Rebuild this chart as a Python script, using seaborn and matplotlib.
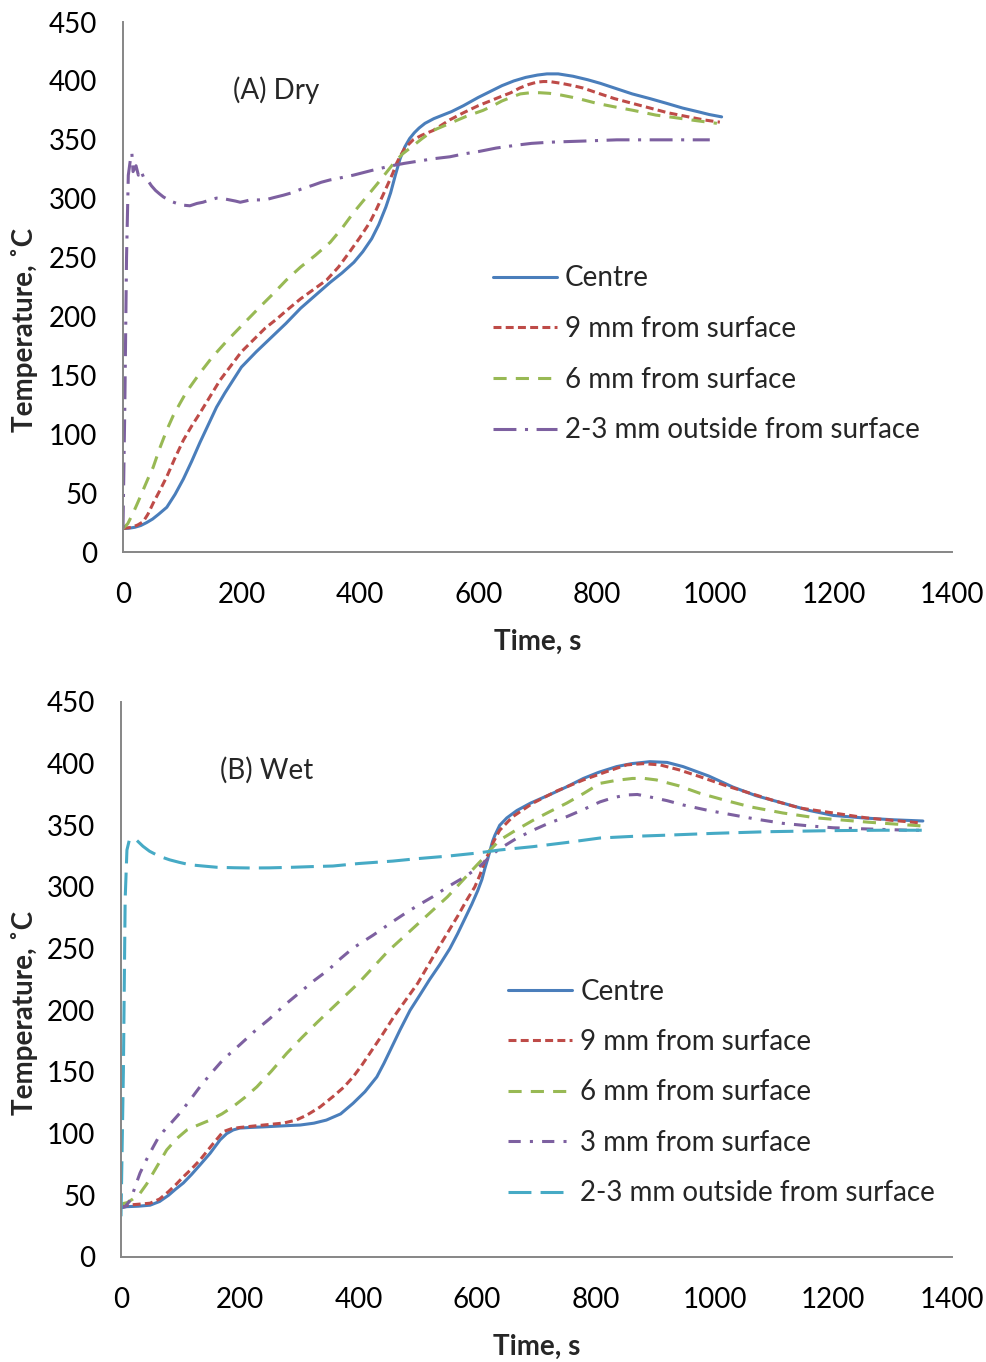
import matplotlib
matplotlib.use("Agg")
import matplotlib.pyplot as plt
import seaborn as sns

# ---------------- data ----------------
# (A) Dry: time (s) and temperature (deg C) per measuring position
dry_centre_t = [0, 10, 20, 30, 40, 50, 60, 74, 88, 102, 116, 130, 144, 158, 172, 186, 200,
                225, 250, 275, 300, 325, 350, 370, 390, 405, 420, 432, 444, 452, 460, 468,
                476, 484, 492, 500, 510, 525, 540, 555, 575, 600, 620, 640, 660, 680, 700,
                716, 735, 760, 785, 806, 830, 860, 890, 918, 945, 970, 990, 1011]
dry_centre_T = [20, 20.2, 21, 22.5, 25, 28, 32, 38, 49, 62, 77, 93, 108, 123, 135, 146, 157,
                170, 182, 194, 207, 218, 229, 237, 246, 255, 266, 278, 293, 305, 320, 334,
                344, 351, 356, 360, 364, 368, 371, 374, 379, 386, 391, 396, 400, 403, 405,
                406, 406, 404, 401, 398, 394, 389, 385, 381, 377, 374, 371.5, 369.5]

dry_9mm_t = [0, 15, 25, 34, 42, 51, 62, 74, 88, 102, 116, 130, 147, 164, 182, 200, 220, 240,
             260, 276, 300, 322, 344, 364, 383, 400, 417, 428, 439, 448, 456, 462, 468, 476,
             490, 505, 524, 552, 575, 600, 620, 637, 655, 670, 685, 699, 710, 720, 740, 760,
             777, 800, 830, 860, 890, 920, 950, 980, 1008]
dry_9mm_T = [20, 21, 23, 25.7, 32, 41.5, 52, 64, 80, 95, 107, 118, 132, 146, 158, 170, 180,
             190, 198, 205, 215, 223, 231, 242, 255, 267, 280, 291, 303, 313, 322, 330, 336,
             343, 350, 354, 358, 367, 373, 379, 383, 386.5, 390, 394, 397, 399, 399.5, 399.5,
             398, 396, 394, 390, 385, 381, 377, 373, 370, 367, 365]

dry_6mm_t = [0, 8, 17, 25, 34, 42, 51, 62, 74, 85, 96, 105, 113, 130, 150, 175, 200, 231,
             255, 276, 300, 325, 350, 370, 389, 412, 435, 457, 472, 490, 505, 524, 552, 580,
             608, 625, 640, 655, 671, 688, 704, 720, 740, 760, 777, 800, 830, 862, 900, 930,
             965, 1003]
dry_6mm_T = [20, 24, 33, 42, 52.6, 62, 72, 88, 103.6, 116, 126, 134, 140, 152, 165, 179, 192,
             208, 220, 231, 242, 252, 263, 275, 288, 302, 316, 330, 338, 345, 351, 358, 364,
             370, 375, 379, 383, 386, 389, 390, 390, 389.5, 388, 386, 384, 381, 378, 375,
             371, 369, 366.5, 364]

dry_out_t = [0, 3, 6, 9, 13, 15, 17, 22, 26, 30, 35, 40, 48, 55, 62, 68, 80, 91, 102, 113,
             125, 135, 147, 158, 170, 180, 190, 198, 207, 215, 228, 240, 255, 271, 285, 300,
             321, 335, 350, 370, 389, 420, 451, 475, 500, 525, 552, 575, 600, 630, 665, 690,
             721, 750, 780, 834, 900, 950, 991]
dry_out_T = [20, 120, 250, 320, 335, 338.6, 323, 328, 320, 324, 318, 317, 311, 307, 304,
             301.6, 298, 296, 294.5, 294, 296, 297, 299, 300.5, 300, 299, 298, 297, 298, 299,
             299, 299, 301, 303, 305, 308, 311.5, 314, 316, 318, 320, 324, 327.7, 330, 332,
             334, 335.6, 338, 340, 343, 345.5, 347, 348, 348.5, 349, 350, 350, 350, 350]

# (B) Wet
wet_centre_t = [0, 10, 30, 49, 65, 80, 92, 105, 119, 133, 150, 167, 178, 189, 200, 217, 240,
                260, 280, 302, 325, 346, 370, 391, 411, 431, 443, 453, 470, 487, 503, 520,
                537, 554, 567, 580, 591, 601, 608, 613, 618, 622, 626, 630, 638, 650, 667,
                690, 723, 750, 779, 805, 835, 860, 891, 920, 947, 990, 1031, 1070, 1115, 1160,
                1200, 1250, 1300, 1351]
wet_centre_T = [40, 40.8, 41.2, 42, 45, 50, 55, 60, 67, 74.6, 84, 95, 100, 103, 104.5, 105,
                105.5, 106, 106.5, 107, 108.5, 111, 116, 124.6, 134, 146, 157, 167, 184, 200,
                212, 225, 237, 250, 262, 275, 286, 297, 306, 315, 323, 330, 337, 342, 350,
                356, 362, 368, 375, 381, 388, 393, 397.6, 400, 401.6, 401, 397.6, 390, 381,
                374, 368, 362, 358, 356, 354.5, 353.5]

wet_9mm_t = [0, 10, 30, 49, 65, 80, 92, 105, 119, 133, 152, 172, 186, 200, 230, 274, 295, 313,
             335, 357, 375, 391, 405, 419, 440, 460, 480, 500, 517, 534, 551, 568, 582, 596,
             605, 612, 618, 622, 628, 638, 660, 694, 735, 779, 815, 852, 880, 908, 940, 975,
             1020, 1060, 1100, 1144, 1200, 1256, 1300, 1346]
wet_9mm_T = [40, 42, 42.8, 43.6, 47, 53, 58.5, 65, 71.5, 78.6, 90, 101.6, 104, 105, 106.5,
             108.6, 111, 115, 121.5, 130, 137.5, 146, 155, 165, 180, 195, 208.5, 222, 236,
             250, 263.5, 277, 289, 300, 310, 320, 326, 330, 337, 346, 357, 368, 378, 386.8,
             393, 399, 400, 399, 395, 389.5, 382, 376, 370, 364, 360, 356, 354, 352]

wet_6mm_t = [0, 10, 20, 32, 43, 54, 65, 77, 94, 111, 130, 150, 170, 189, 209, 229, 254, 279,
             305, 330, 365, 400, 425, 450, 475, 500, 525, 550, 575, 600, 612, 622, 638, 665,
             694, 722, 751, 780, 807, 835, 862, 882, 902, 940, 975, 1020, 1060, 1115, 1172,
             1260, 1349]
wet_6mm_T = [43, 44, 47, 51.6, 59, 68, 77, 86.8, 96, 103, 107, 111, 116, 122, 129.5, 138,
             151, 165, 178, 190, 206, 222, 235, 248, 259, 270, 281, 292, 305, 318, 324, 330,
             338, 346, 354, 361, 368, 376, 384, 386.5, 388, 388, 386.8, 382, 376, 370, 365,
             360, 356, 352.5, 349.5]

wet_3mm_t = [0, 7, 14, 20, 26, 32, 43, 54, 62, 71, 85, 99, 116, 133, 152, 172, 200, 225, 250,
             275, 300, 325, 350, 370, 391, 425, 458, 480, 500, 525, 550, 575, 600, 612, 622,
             638, 665, 694, 722, 751, 780, 807, 830, 852, 870, 891, 920, 947, 990, 1031, 1070,
             1115, 1160, 1200, 1260, 1329, 1351]
wet_3mm_T = [40, 40.8, 45, 51.6, 60, 68, 79, 89, 96, 101.6, 109, 116.6, 127, 138, 149, 160,
             172, 183, 193, 204, 214, 224, 233, 242, 250.5, 261, 272, 279, 285, 292, 300, 307,
             315, 320, 325, 331, 339, 346, 352, 357, 363, 369, 372.5, 374.6, 375, 373, 370,
             366.5, 362, 358.4, 355, 351.6, 349.5, 348, 347, 346, 346]

wet_out_t = [0, 4, 7, 10, 14, 24, 37, 48, 60, 70, 82, 98, 116, 138, 161, 190, 217, 250, 290,
             320, 357, 400, 458, 500, 550, 600, 638, 694, 750, 807, 860, 919, 1000, 1088,
             1150, 1200, 1280, 1351]
wet_out_T = [33, 150, 290, 330, 338, 339, 333, 329, 326, 324, 322, 320, 318, 317, 316, 315.6,
             315.4, 315.5, 316, 316.5, 317, 319, 321, 323, 325, 327.5, 330, 332.7, 336,
             339.7, 341, 342, 343.5, 344.8, 345.3, 345.7, 346, 346]

label_centre = "Centre"
label_9mm = "9 mm from surface"
label_6mm = "6 mm from surface"
label_3mm = "3 mm from surface"
label_out = "2-3 mm outside from surface"

x_ticks = [0, 200, 400, 600, 800, 1000, 1200, 1400]
y_ticks = [0, 50, 100, 150, 200, 250, 300, 350, 400, 450]

# ---------------- style ----------------
sns.set_theme(style="white")
plt.rcParams["font.family"] = ["Lato", "DejaVu Sans"]

BLUE = "#4A7EBB"
RED = "#BE4B48"
GREEN = "#98B954"
PURPLE = "#7D60A0"
CYAN = "#46AAC5"
AXIS_GREY = "#868686"

LW = 2.2
FS = 20

SOLID = "-"
ROUND_DOT = (0, (2.6, 1.4))
DASH = (0, (4.3, 3.0))
LONG_DASH_DOT = (0, (7.5, 2.8, 1.0, 2.8))
DASH_DOT = (0, (4.0, 3.0, 1.0, 3.0))
LONG_DASH = (0, (7.5, 3.0))


def draw(ax, t, T, color, ls, label):
    sns.lineplot(x=t, y=T, ax=ax, color=color, linestyle=ls, linewidth=LW,
                 label=label, sort=False, estimator=None, errorbar=None)


def style_axes(ax):
    ax.set_xlim(0, 1400)
    ax.set_ylim(0, 450)
    ax.set_xticks(x_ticks)
    ax.set_yticks(y_ticks)
    for side in ("top", "right"):
        ax.spines[side].set_visible(False)
    for side in ("left", "bottom"):
        ax.spines[side].set_color(AXIS_GREY)
        ax.spines[side].set_linewidth(1.4)
    ax.tick_params(axis="both", direction="inout", length=13, width=1.4,
                   color=AXIS_GREY, labelsize=FS, labelcolor="black")
    ax.tick_params(axis="y", pad=12)
    ax.tick_params(axis="x", pad=15)
    ax.set_xlabel("Time, s", fontsize=FS, fontweight="bold", labelpad=15)
    ax.set_ylabel("Temperature, ˚C", fontsize=FS, fontweight="bold")
    ax.grid(False)


def add_legend(ax, anchor, spacing):
    ax.legend(loc="upper left", bbox_to_anchor=anchor, frameon=False,
              fontsize=FS, handlelength=2.3, handletextpad=0.3, labelspacing=spacing,
              borderpad=0, borderaxespad=0)


fig = plt.figure(figsize=(9.87, 13.62), dpi=100)
ax_dry = fig.add_axes([0.1246, 0.5947, 0.8399, 0.3891])
ax_wet = fig.add_axes([0.1226, 0.0771, 0.8419, 0.4075])

# (A) Dry
draw(ax_dry, dry_centre_t, dry_centre_T, BLUE, SOLID, label_centre)
draw(ax_dry, dry_9mm_t, dry_9mm_T, RED, ROUND_DOT, label_9mm)
draw(ax_dry, dry_6mm_t, dry_6mm_T, GREEN, DASH, label_6mm)
draw(ax_dry, dry_out_t, dry_out_T, PURPLE, LONG_DASH_DOT, label_out)
style_axes(ax_dry)
ax_dry.yaxis.set_label_coords(-0.103, 0.42)
ax_dry.text(186, 392, "(A) Dry", fontsize=FS, ha="left", va="center")
add_legend(ax_dry, (0.446, 0.541), 0.89)

# (B) Wet
draw(ax_wet, wet_centre_t, wet_centre_T, BLUE, SOLID, label_centre)
draw(ax_wet, wet_9mm_t, wet_9mm_T, RED, ROUND_DOT, label_9mm)
draw(ax_wet, wet_6mm_t, wet_6mm_T, GREEN, DASH, label_6mm)
draw(ax_wet, wet_3mm_t, wet_3mm_T, PURPLE, DASH_DOT, label_3mm)
draw(ax_wet, wet_out_t, wet_out_T, CYAN, LONG_DASH, label_out)
style_axes(ax_wet)
ax_wet.yaxis.set_label_coords(-0.100, 0.44)
ax_wet.text(167, 395, "(B) Wet", fontsize=FS, ha="left", va="center")
add_legend(ax_wet, (0.466, 0.5016), 0.88)

fig.savefig("out.png", dpi=100)
